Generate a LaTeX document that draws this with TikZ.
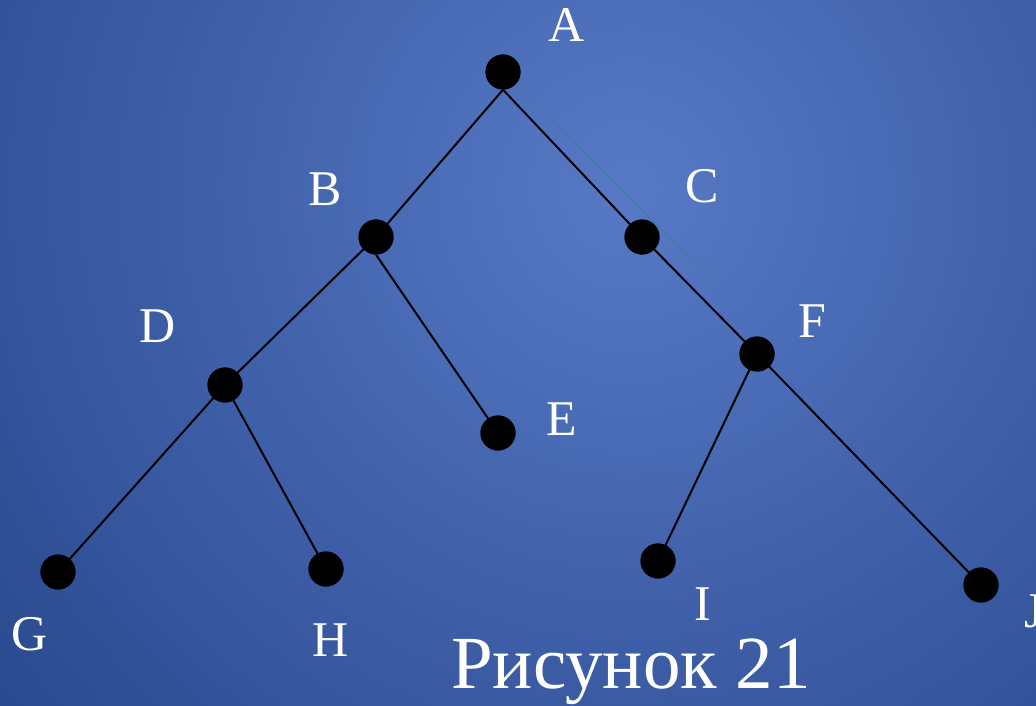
\documentclass[tikz,border=0pt]{standalone}
\usepackage{fontspec}
\setmainfont{Liberation Serif}
\definecolor{bgin}{RGB}{88,122,198}
\definecolor{bgout}{RGB}{36,68,136}
\definecolor{stray}{RGB}{60,125,165}
\begin{document}
\begin{tikzpicture}[x=1pt,y=-1pt,
  vtx/.style={circle,fill=black,minimum size=35pt,inner sep=0pt},
  lbl/.style={text=white,font=\fontsize{50}{50}\selectfont,inner sep=0pt},
  edge/.style={black,line width=2pt}]
\useasboundingbox (0,0) rectangle (1036,706);
\begin{scope}
\clip (0,0) rectangle (1036,706);
\fill[bgout] (0,0) rectangle (1036,706);
\coordinate (gc) at (630,190);
\foreach \r in {920,912,...,8}{
  \pgfmathtruncatemacro\p{100*(1-\r/920)}
  \fill[bgin!\p!bgout] (gc) circle (\r);
}
\end{scope}
% stray faint line
\coordinate (s1) at (524,93);
\coordinate (s2) at (716,283);
\draw[stray,line width=1pt] (s1) -- (s2);
% vertices
\node[vtx] (A) at (503,72) {};
\node[vtx] (B) at (376,237) {};
\node[vtx] (C) at (642,237) {};
\node[vtx] (D) at (225,385) {};
\node[vtx] (E) at (498,433) {};
\node[vtx] (F) at (757,354) {};
\node[vtx] (G) at (58,572) {};
\node[vtx] (H) at (326,569) {};
\node[vtx] (I) at (658,561) {};
\node[vtx] (J) at (981,585) {};
% edges
\draw[edge] (A.south) -- (B.center);
\draw[edge] (A.south) -- (C.center);
\draw[edge] (B.center) -- (D.center);
\draw[edge] (B.south) -- (E.center);
\draw[edge] (C.center) -- (F.center);
\draw[edge] (D.center) -- (G.center);
\draw[edge] (D.center) -- (H.center);
\draw[edge] (F.center) -- (I.center);
\draw[edge] (F.center) -- (J.center);
% redraw vertices on top
\foreach \n in {A,B,C,D,E,F,G,H,I,J}{\fill[black] (\n) circle (17.5);}
% labels
\node[lbl] (lA) at (567,25) {A};
\node[lbl] (lB) at (325,189) {B};
\node[lbl] (lC) at (702,186) {C};
\node[lbl] (lD) at (158,326) {D};
\node[lbl] (lE) at (562,419) {E};
\node[lbl] (lF) at (812,321) {F};
\node[lbl] (lG) at (30,634) {G};
\node[lbl] (lH) at (331,640) {H};
\node[lbl] (lI) at (703,604) {I};
\node[lbl,anchor=west] (lJ) at (1024,611) {J};
\node[text=white,font=\fontsize{75}{75}\selectfont,inner sep=0pt,anchor=base] (cap) at (631,688) {Рисунок 21};
\end{tikzpicture}
\end{document}
